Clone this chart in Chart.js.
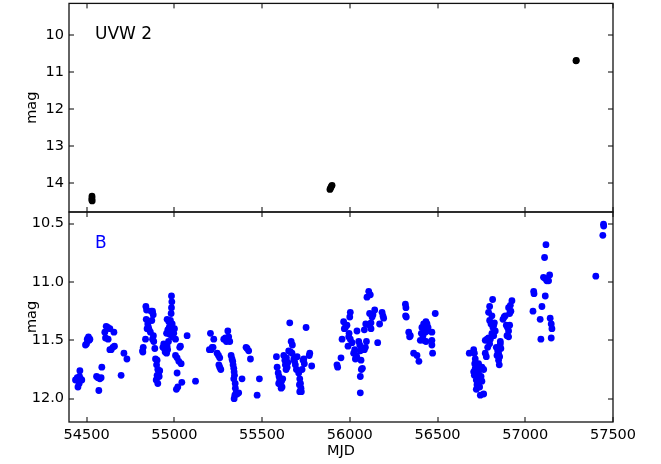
<!DOCTYPE html>
<html>
<head>
<meta charset="utf-8">
<script src="https://cdn.jsdelivr.net/npm/chart.js@4.4.1/dist/chart.umd.min.js"></script>
<style>
  html, body { margin: 0; padding: 0; background: #ffffff; }
  #wrap { position: relative; width: 661px; height: 464px; }
  canvas { position: absolute; left: 0; top: 0; }
</style>
</head>
<body>
<div id="wrap">
  <canvas id="top" width="661" height="464"></canvas>
  <canvas id="bot" width="661" height="464"></canvas>
</div>
<script>
// ---------- data ----------
const xTickValues = [54500, 55000, 55500, 56000, 56500, 57000, 57500];
const uvwTickValues = [10, 11, 12, 13, 14];
const bTickValues = [10.5, 11.0, 11.5, 12.0];

const uvwLabel = "UVW 2";
const bLabel = "B";

const uvwMjd = [54531, 54531, 54530, 54532, 55887, 55891, 55895, 55899, 57289, 57291];
const uvwMag = [14.35, 14.40, 14.45, 14.48, 14.17, 14.13, 14.09, 14.06, 10.70, 10.69];

const bMjd = [
  54437,54447,54451,54458,54462,54466,54473,54460,54494,54500,54504,54511,54519,54515,
  54557,54565,54576,54583,54570,54587,54604,54612,54621,54633,54608,54623,54633,54640,54650,54659,54656,
  54697,54713,54730,
  54819,54823,54821,54836,54838,54842,54840,54849,54853,54857,54845,54868,54876,54880,54872,54864,
  54876,54883,54889,54881,54893,54902,54899,54906,54902,54897,54906,54912,54917,54914,
  54940,54944,54952,54956,54959,54967,54956,54963,54971,54978,54982,54984,54986,54984,
  54959,54969,54993,55001,54990,55007,54997,54935,54948,54962,54975,54988,
  55007,55016,55031,55035,55026,55039,55016,55020,55012,55043,55073,55121,
  55206,55200,55210,55216,55221,55225,55244,55252,55259,55254,55259,55265,
  55282,55291,55297,55305,55310,55316,55324,55329,55333,55335,55339,55341,55343,55339,55347,55348,
  55352,55345,55358,55367,55341,55386,55409,55415,55424,55434,55472,55485,
  55582,55586,55592,55597,55601,55605,55609,55614,55595,55611,55618,
  55624,55630,55633,55637,55643,55647,55639,55652,55662,55671,55666,55673,55658,
  55681,55690,55696,55700,55685,55709,55715,55719,55722,55715,55724,55713,
  55728,55734,55738,55741,55751,55772,55783,55769,
  55927,55931,55950,55956,55965,55975,55969,55984,55996,55990,55994,56003,56000,56003,
  56013,56022,56032,56038,56028,56041,56041,56051,56057,56060,56066,56060,56064,56072,56060,
  56083,56089,56095,56083,56091,56098,56108,56117,56113,56121,56113,56127,56132,56121,
  56142,56159,56170,56184,56189,56193,
  56317,56320,56318,56322,56336,56341,56345,56364,56383,56394,
  56402,56408,56411,56421,56427,56434,56440,56417,56430,56421,56434,56440,56446,
  56468,56468,56468,56472,56487,
  56681,56706,56710,56715,56712,56734,56706,56725,56734,56748,56721,56753,56725,56740,56721,
  56744,56763,56763,56753,56715,56740,56710,56731,56772,56778,
  56772,56782,56791,56786,56797,56801,56810,56816,56805,56797,56791,56797,56814,56810,56824,56829,56820,56820,
  56835,56843,56848,56854,56839,56858,56861,56848,56852,56858,
  56873,56880,56886,56892,56899,56905,56896,56905,56911,56911,56918,56924,56915,56905,
  57048,57050,57044,57085,57095,57089,57110,57118,57104,57114,57123,57133,57139,57114,
  57142,57148,57152,57148,57402,57446,57447,57442
];
const bMag = [
  11.84,11.82,11.90,11.87,11.76,11.83,11.84,11.81,11.54,11.53,11.49,11.47,11.49,11.50,
  11.81,11.82,11.83,11.82,11.93,11.73,11.43,11.38,11.39,11.40,11.48,11.49,11.58,11.58,11.56,11.55,11.43,
  11.80,11.61,11.66,
  11.59,11.56,11.60,11.49,11.21,11.24,11.32,11.36,11.39,11.41,11.40,11.25,11.25,11.28,11.33,11.43,
  11.49,11.51,11.57,11.46,11.66,11.67,11.71,11.75,11.80,11.84,11.87,11.77,11.76,11.81,
  11.53,11.57,11.59,11.61,11.55,11.51,11.44,11.41,11.39,11.33,11.27,11.22,11.17,11.12,
  11.32,11.34,11.41,11.40,11.47,11.49,11.44,11.56,11.60,11.58,11.45,11.36,
  11.63,11.65,11.56,11.55,11.68,11.70,11.78,11.90,11.92,11.86,11.46,11.85,
  11.44,11.58,11.58,11.56,11.56,11.49,11.61,11.63,11.65,11.71,11.73,11.75,
  11.49,11.48,11.51,11.42,11.47,11.51,11.63,11.66,11.68,11.71,11.74,11.77,11.80,11.83,11.87,11.91,
  11.95,11.97,11.96,11.95,12.00,11.83,11.56,11.57,11.59,11.66,11.97,11.83,
  11.64,11.73,11.78,11.81,11.84,11.88,11.91,11.90,11.87,11.85,11.83,
  11.63,11.67,11.71,11.75,11.73,11.69,11.65,11.59,11.60,11.61,11.51,11.54,11.35,
  11.66,11.71,11.75,11.64,11.68,11.78,11.83,11.87,11.91,11.94,11.94,11.88,
  11.75,11.67,11.66,11.70,11.39,11.61,11.72,11.63,
  11.71,11.73,11.65,11.49,11.34,11.39,11.40,11.37,11.44,11.55,11.47,11.49,11.30,11.26,
  11.52,11.61,11.66,11.63,11.58,11.65,11.42,11.51,11.54,11.59,11.75,11.81,11.67,11.74,11.95,
  11.58,11.56,11.51,11.41,11.36,11.13,11.08,11.11,11.37,11.35,11.27,11.30,11.28,11.40,
  11.24,11.52,11.36,11.26,11.29,11.31,
  11.19,11.22,11.29,11.30,11.43,11.47,11.46,11.61,11.63,11.68,
  11.50,11.44,11.39,11.36,11.37,11.34,11.36,11.46,11.43,11.50,11.51,11.42,11.39,
  11.43,11.50,11.54,11.61,11.27,
  11.61,11.58,11.61,11.66,11.70,11.70,11.77,11.75,11.78,11.81,11.84,11.85,11.88,11.90,11.92,
  11.97,11.96,11.75,11.73,11.74,11.81,11.80,11.86,11.61,11.64,
  11.50,11.49,11.48,11.56,11.53,11.49,11.44,11.39,11.36,11.33,11.26,11.21,11.15,11.29,11.35,11.42,11.46,11.37,
  11.56,11.59,11.61,11.64,11.63,11.53,11.57,11.67,11.71,11.51,
  11.32,11.30,11.29,11.37,11.39,11.42,11.46,11.47,11.37,11.27,11.25,11.16,11.20,11.22,
  11.08,11.10,11.25,11.32,11.21,11.49,10.79,10.68,10.96,10.97,10.99,10.99,10.94,11.12,
  11.31,11.36,11.40,11.48,10.95,10.505,10.52,10.60
];

// ---------- layout constants ----------
const W = 661, H = 464;
const LEFT = 69, RIGHT = 613, TOP = 2, MID = 212, BOTTOM = 422;
const FONT = "'DejaVu Sans', sans-serif";
const TICK_FS = 14.5;

function pts(xs, ys) { return xs.map((x, i) => ({ x: x, y: ys[i] })); }

const framePlugin = {
  id: 'frame',
  afterDraw(chart, args, opts) {
    const { ctx, chartArea: a, scales } = chart;
    ctx.save();
    ctx.strokeStyle = '#000';
    ctx.lineWidth = 1;
    const L = 5;
    ctx.beginPath();
    scales.x.ticks.forEach(t => {
      const px = Math.round(scales.x.getPixelForValue(t.value));
      ctx.moveTo(px, a.bottom); ctx.lineTo(px, a.bottom - L);
      ctx.moveTo(px, a.top); ctx.lineTo(px, a.top + L);
    });
    scales.y.ticks.forEach(t => {
      const py = Math.round(scales.y.getPixelForValue(t.value));
      ctx.moveTo(a.left, py); ctx.lineTo(a.left + L, py);
      ctx.moveTo(a.right, py); ctx.lineTo(a.right - L, py);
    });
    ctx.stroke();
    ctx.lineWidth = 1.3;
    ctx.strokeStyle = '#111';
    ctx.strokeRect(a.left, a.top, a.right - a.left, a.bottom - a.top);
    ctx.fillStyle = opts.color;
    ctx.font = '17px ' + FONT;
    ctx.textBaseline = 'alphabetic';
    ctx.textAlign = 'left';
    ctx.fillText(opts.label, a.left + 26, a.top + 36);
    ctx.restore();
  }
};

function zeroPad(s) { s.paddingTop = 0; s.paddingBottom = 0; s.paddingLeft = 0; s.paddingRight = 0; }

function makeChart(id, data, color, yMin, yMax, yFmt, isTop, label) {
  return new Chart(document.getElementById(id), {
    type: 'scatter',
    data: {
      datasets: [{
        data: data,
        backgroundColor: color,
        borderColor: color,
        borderWidth: 0,
        pointRadius: 3.4,
        pointHoverRadius: 3.4
      }]
    },
    options: {
      responsive: false,
      animation: false,
      devicePixelRatio: 1,
      events: [],
      layout: {
        padding: isTop
          ? { left: 0, top: TOP, right: W - RIGHT, bottom: H - MID }
          : { left: 0, top: MID, right: W - RIGHT, bottom: 0 }
      },
      plugins: {
        legend: { display: false },
        tooltip: { enabled: false },
        frame: { color: isTop ? '#000000' : '#0000ff', label: label }
      },
      scales: {
        x: {
          type: 'linear',
          min: 54400, max: 57500,
          grid: { display: false, drawTicks: false },
          border: { display: false },
          afterBuildTicks: s => { s.ticks = xTickValues.map(v => ({ value: v })); },
          afterFit: s => { s.height = isTop ? 0 : (H - BOTTOM); zeroPad(s); },
          ticks: {
            display: !isTop,
            maxRotation: 0, autoSkip: false,
            padding: 5,
            color: '#000',
            font: { family: FONT, size: TICK_FS },
            callback: v => String(v)
          },
          title: {
            display: !isTop,
            text: 'MJD',
            color: '#000',
            font: { family: FONT, size: TICK_FS },
            padding: { top: 0, bottom: 4 }
          }
        },
        y: {
          type: 'linear',
          reverse: true,
          min: yMin, max: yMax,
          grid: { display: false, drawTicks: false },
          border: { display: false },
          afterBuildTicks: s => { s.ticks = (isTop ? uvwTickValues : bTickValues).map(v => ({ value: v })); },
          afterFit: s => { s.width = LEFT; zeroPad(s); },
          ticks: {
            padding: 5,
            color: '#000',
            font: { family: FONT, size: TICK_FS },
            callback: yFmt
          },
          title: {
            display: true,
            text: 'mag',
            color: '#000',
            font: { family: FONT, size: TICK_FS },
            padding: { top: 24, bottom: 0 }
          }
        }
      }
    },
    plugins: [framePlugin]
  });
}

makeChart('top', pts(uvwMjd, uvwMag), '#000000', 9.15, 14.78, v => String(Math.round(v)), true, uvwLabel);
makeChart('bot', pts(bMjd, bMag), '#0000ff', 10.4, 12.2, v => Number(v).toFixed(1), false, bLabel);
</script>
</body>
</html>
